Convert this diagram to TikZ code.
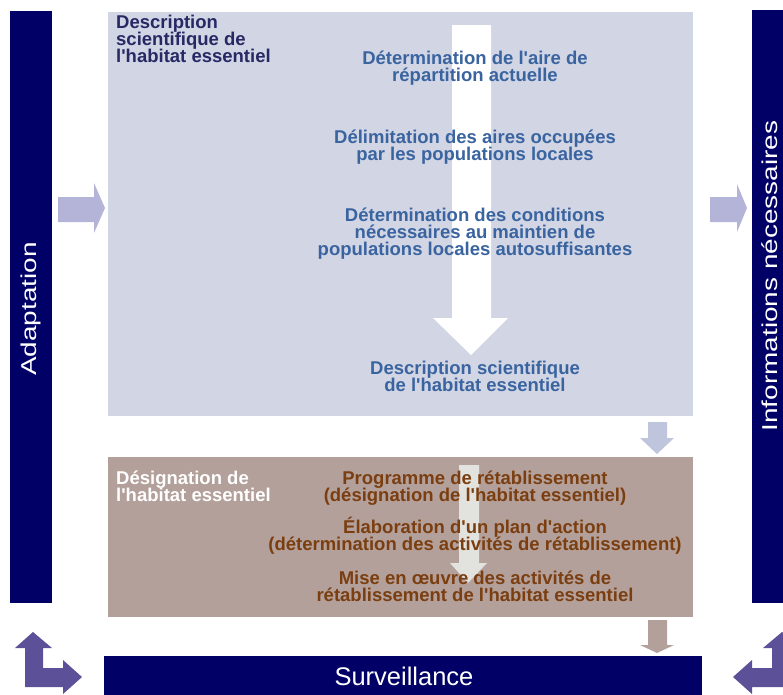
\documentclass[tikz,border=0pt]{standalone}
\usepackage{fontspec}
\setmainfont{Liberation Sans}[Ligatures=TeXOff]
\setlength{\lineskiplimit}{-5pt}
\definecolor{navy}{RGB}{0,0,102}
\definecolor{sciblue}{RGB}{209,213,228}
\definecolor{desbrown}{RGB}{180,160,154}
\definecolor{lavender}{RGB}{180,180,216}
\definecolor{palearrow}{RGB}{192,197,222}
\definecolor{purplearrow}{RGB}{92,80,152}
\definecolor{titleblue}{RGB}{40,40,100}
\definecolor{stepblue}{RGB}{58,100,160}
\definecolor{stepbrown}{RGB}{122,62,16}
\definecolor{flowgrey}{RGB}{226,226,222}

\begin{document}
\begin{tikzpicture}[x=1pt, y=-1pt,
    bar/.style={fill=navy, inner sep=0pt, anchor=north west},
    panel/.style={inner sep=0pt, anchor=north west},
    bartext/.style={text=white, font=\fontsize{21.5}{24}\selectfont},
    boxtitle/.style={anchor=north west, inner sep=0pt, align=left,
        font=\fontsize{18.5}{17}\selectfont\bfseries},
    stepbox/.style={anchor=north, inner sep=0pt, align=center,
        font=\fontsize{18.5}{17}\selectfont\bfseries}]
\useasboundingbox (0,0) rectangle (783,694);
\clip (0,0) rectangle (783,694);

% side bars and bottom bar
\node[bar, minimum width=42pt, minimum height=592pt] (adapt) at (10,11) {};
\node[bar, minimum width=40pt, minimum height=593pt] (info) at (752,10) {};
\node[bar, minimum width=598pt, minimum height=40pt] (surv) at (104,656) {};
\node[bartext, rotate=90] (adaptT) at (adapt.center |- 0,309) {\scalebox{1.3}[1]{Adaptation}};
\node[bartext, rotate=90] (infoT) at (770,276) {\scalebox{1.3}[1]{Informations nécessaires}};
\node[bartext, font=\fontsize{25.5}{28}\selectfont, anchor=base] (survT) at (404,685) {Surveillance};

% the two panels
\node[panel, fill=sciblue, minimum width=585pt, minimum height=404pt] (sci) at (108,12) {};
\node[panel, fill=desbrown, minimum width=585pt, minimum height=160pt] (desig) at (108,457) {};

% flow arrows inside the panels
\fill[white] (452,25) -- (491,25) -- (491,318) -- (508,318) -- (471,355)
    -- (433,318) -- (452,318) -- cycle;
\fill[flowgrey] (459,465) -- (479,465) -- (479,563) -- (487,563) -- (468,583)
    -- (450,563) -- (459,563) -- cycle;

% arrows between the blocks
\fill[lavender] (58,197) -- (94,197) -- (94,183) -- (105,208) -- (94,233)
    -- (94,222) -- (58,222) -- cycle;
\fill[lavender] (710,197) -- (737,197) -- (737,184) -- (747,208) -- (737,232)
    -- (737,222) -- (710,222) -- cycle;
\fill[palearrow] (648,422) -- (667,422) -- (667,438) -- (674,438) -- (657,454)
    -- (640,438) -- (648,438) -- cycle;
\fill[desbrown] (648,620) -- (667,620) -- (667,645) -- (674,645) -- (657,653)
    -- (640,645) -- (648,645) -- cycle;
\fill[purplearrow] (33,632) -- (52,648) -- (43,648) -- (43,668) -- (63,668)
    -- (63,660) -- (82,677) -- (63,694) -- (63,687) -- (25,687) -- (25,648)
    -- (15,648) -- cycle;
\fill[purplearrow] (782,632) -- (800,648) -- (790,648) -- (790,687)
    -- (752,687) -- (752,694) -- (733,677) -- (752,660) -- (752,668)
    -- (772,668) -- (772,648) -- (763,648) -- cycle;

% texts of the upper panel
\node[boxtitle, text=titleblue] (sciT) at (116,15) {Description\\scientifique de\\l'habitat essentiel};
\node[stepbox, text=stepblue] (aire) at (475,50.5) {Détermination de l'aire de\\répartition actuelle};
\node[stepbox, text=stepblue] (delim) at (475,129.5) {Délimitation des aires occupées\\par les populations locales};
\node[stepbox, text=stepblue] (cond) at (475,207.5) {Détermination des conditions\\nécessaires au maintien de\\populations locales autosuffisantes};
\node[stepbox, text=stepblue] (descr) at (475,360.5) {Description scientifique\\de l'habitat essentiel};

% texts of the lower panel
\node[boxtitle, text=white] (desigT) at (116,470.5) {Désignation de\\l'habitat essentiel};
\node[stepbox, text=stepbrown] (prog) at (475,470.5) {Programme de rétablissement\\(désignation de l'habitat essentiel)};
\node[stepbox, text=stepbrown] (plan) at (475,517) {Élaboration d'un plan d'action\\(détermination des activités de rétablissement)};
\node[stepbox, text=stepbrown] (mise) at (475,570.5) {Mise en œuvre des activités de\\rétablissement de l'habitat essentiel};
\end{tikzpicture}
\end{document}
